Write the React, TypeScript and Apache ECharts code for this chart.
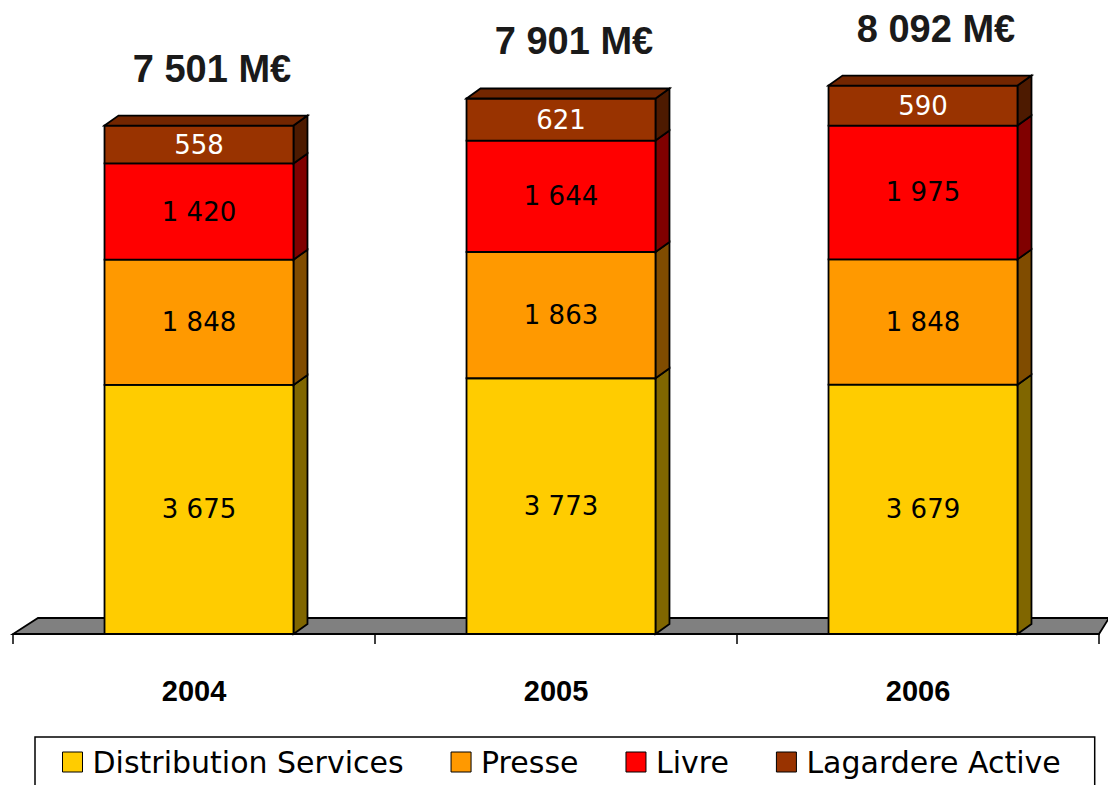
import React, { useEffect, useRef } from "react";
import * as echarts from "echarts";

const years = ["2004", "2005", "2006"];
const seriesNames = ["Distribution Services", "Presse", "Livre", "Lagardere Active"];
const distribution = [3675, 3773, 3679];
const presse = [1848, 1863, 1848];
const livre = [1420, 1644, 1975];
const lagardere = [558, 621, 590];

const frontColors = ["#FFCC00", "#FF9900", "#FF0000", "#993300"];
const sideColors = ["#806600", "#804C00", "#800000", "#4D1A00"];
const topColor = "#732600";
const labelColors = ["#000000", "#000000", "#000000", "#FFFFFF"];

const fmt = (v: number) => String(v).replace(/\B(?=(\d{3})+(?!\d))/g, " ");

export default function App() {
  const ref = useRef<HTMLDivElement>(null);
  useEffect(() => {
    if (!ref.current) return;
    const chart = echarts.init(ref.current, undefined, { renderer: "svg" });
    const values = [distribution, presse, livre, lagardere];
    const totals = years.map((_, i) => values.reduce((s, arr) => s + arr[i], 0));
    const DX = 14;
    const DY = 10;
    const series: any[] = [];
    series.push({
      type: "custom",
      name: "floor",
      silent: true,
      z: 1,
      data: [[0, 0]],
      renderItem: (params: any) => {
        const cs = params.coordSys;
        const yb = cs.y + cs.height;
        return {
          type: "polygon",
          shape: {
            points: [
              [cs.x, yb],
              [cs.x + cs.width, yb],
              [cs.x + cs.width + 10, yb - 16],
              [cs.x + 25, yb - 16],
            ],
          },
          style: { fill: "#808080", stroke: "#000", lineWidth: 1.8 },
        };
      },
    });
    values.forEach((arr, sIdx) => {
      const data = arr.map((v, i) => {
        let base = 0;
        for (let k = 0; k < sIdx; k++) base += values[k][i];
        return [i, base, v, totals[i]];
      });
      const isTop = sIdx === values.length - 1;
      series.push({
        type: "custom",
        name: seriesNames[sIdx],
        z: 2 + sIdx,
        itemStyle: { color: frontColors[sIdx] },
        encode: { x: 0, y: 2 },
        data,
        renderItem: (params: any, api: any) => {
          const cat = api.value(0);
          const base = api.value(1);
          const val = api.value(2);
          const total = api.value(3);
          const pb = api.coord([cat, base]);
          const pt = api.coord([cat, base + val]);
          const bandW = api.size([1, 0])[0];
          const w = bandW * 0.522;
          const cx = pb[0] + 5;
          const x0 = cx - w / 2;
          const x1 = cx + w / 2;
          const yb = pb[1];
          const yt = pt[1];
          const children: any[] = [
            {
              type: "polygon",
              shape: { points: [[x1, yb], [x1 + DX, yb - DY], [x1 + DX, yt - DY], [x1, yt]] },
              style: { fill: sideColors[sIdx], stroke: "#000", lineWidth: 1.8 },
            },
            {
              type: "rect",
              shape: { x: x0, y: yt, width: w, height: yb - yt },
              style: { fill: frontColors[sIdx], stroke: "#000", lineWidth: 1.8 },
            },
          ];
          if (isTop) {
            children.push({
              type: "polygon",
              shape: { points: [[x0, yt], [x0 + DX, yt - DY], [x1 + DX, yt - DY], [x1, yt]] },
              style: { fill: topColor, stroke: "#000", lineWidth: 1.8 },
            });
            children.push({
              type: "text",
              x: cx + 13,
              y: yt - 57,
              style: {
                text: fmt(total) + " M€",
                fill: "#1a1a1a",
                font: 'bold 38px "Liberation Sans", Arial, sans-serif',
                align: "center",
                verticalAlign: "middle",
              },
            });
          }
          children.push({
            type: "text",
            x: cx,
            y: (yt + yb) / 2,
            style: {
              text: fmt(val),
              fill: labelColors[sIdx],
              font: '26px "DejaVu Sans", sans-serif',
              align: "center",
              verticalAlign: "middle",
            },
          });
          return { type: "group", children };
        },
      });
    });

    chart.setOption({
      animation: false,
      backgroundColor: "#ffffff",
      grid: { left: 13, right: 9, top: 24, bottom: 151, containLabel: false },
      xAxis: {
        type: "category",
        data: years,
        boundaryGap: true,
        axisLine: { show: true, lineStyle: { color: "#000", width: 1.5 } },
        axisTick: { show: true, length: 10, lineStyle: { color: "#000", width: 1.5 } },
        axisLabel: {
          margin: 42,
          color: "#000",
          fontSize: 29,
          fontWeight: "bold",
          fontFamily: '"Liberation Sans", Arial, sans-serif',
        },
        splitLine: { show: false },
        z: 10,
      },
      yAxis: {
        type: "value",
        min: 0,
        max: 9000,
        show: false,
        splitLine: { show: false },
      },
      legend: {
        data: seriesNames,
        left: 35,
        top: 737,
        width: 1010,
        orient: "horizontal",
        icon: "rect",
        itemWidth: 20,
        itemHeight: 20,
        itemGap: 47,
        padding: [10, 34, 30, 27],
        borderColor: "#000",
        borderWidth: 1.5,
        borderRadius: 0,
        itemStyle: { borderColor: "#000", borderWidth: 1 },
        textStyle: {
          fontSize: 30,
          fontFamily: '"DejaVu Sans", sans-serif',
          color: "#000",
          padding: [0, 0, 0, 5],
        },
      },
      series,
    });
    return () => chart.dispose();
  }, []);
  return <div ref={ref} style={{ position: "absolute", left: 0, top: 0, width: 1108, height: 785 }} />;
}
